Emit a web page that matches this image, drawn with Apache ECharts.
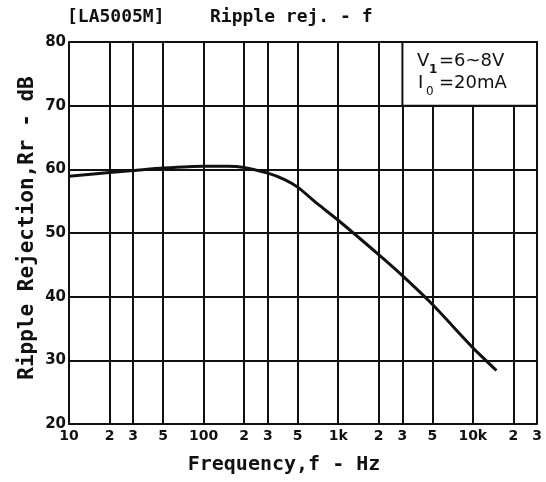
<!DOCTYPE html>
<html>
<head>
<meta charset="utf-8">
<script src="https://cdn.jsdelivr.net/npm/echarts@6/dist/echarts.min.js"></script>
<style>
	html, body { margin: 0; padding: 0; background: #fff; }
	#chart { width: 546px; height: 482px; }
</style>
</head>
<body>
<div id="chart"></div>
<script>
var freqHz = [10, 20, 30, 50, 100, 150, 200, 300, 400, 500, 700, 1000, 2000, 3000, 5000, 10000, 15000]
var rippleDb = [58.9, 59.5, 59.8, 60.2, 60.5, 60.5, 60.3, 59.4, 58.4, 57.2, 54.6, 52.0, 46.6, 43.3, 38.8, 32.0, 28.4]

// x grid / tick positions (Hz) and their labels
var tickHz = [10, 20, 30, 50, 100, 200, 300, 500, 1000, 2000, 3000, 5000, 10000, 20000, 30000]
var tickText = ['10', '2', '3', '5', '100', '2', '3', '5', '1k', '2', '3', '5', '10k', '2', '3']

var yTicks = [20, 30, 40, 50, 60, 70, 80]

var ink = '#111'
var mono = '"DejaVu Sans Mono", "Liberation Mono", monospace'
var sans = '"DejaVu Sans", sans-serif'

var tickLog = tickHz.map(function (f) { return Math.log10(f) })

function labelFor(v) {
	for (var i = 0; i < tickLog.length; i++) {
		if (Math.abs(tickLog[i] - v) < 1e-6) return tickText[i]
	}
	return ''
}

var chart = echarts.init(document.getElementById('chart'), null, { renderer: 'canvas' })

chart.setOption({
	backgroundColor: '#fff',
	animation: false,
	grid: { left: 69, right: 9, top: 42, bottom: 58 },
	xAxis: {
		type: 'value',
		min: tickLog[0],
		max: tickLog[tickLog.length - 1],
		axisLine: { show: true, lineStyle: { color: ink, width: 2 } },
		axisTick: { show: false, customValues: tickLog },
		splitLine: { show: true, lineStyle: { color: ink, width: 2 } },
		axisLabel: {
			customValues: tickLog,
			formatter: labelFor,
			color: ink,
			fontFamily: sans,
			fontWeight: 'bold',
			fontSize: 14,
			margin: 5
		}
	},
	yAxis: {
		type: 'value',
		min: yTicks[0],
		max: yTicks[yTicks.length - 1],
		interval: 10,
		axisLine: { show: true, lineStyle: { color: ink, width: 2 } },
		axisTick: { show: false },
		splitLine: { show: true, lineStyle: { color: ink, width: 2 } },
		axisLabel: {
			color: ink,
			fontFamily: sans,
			fontWeight: 'bold',
			fontSize: 15,
			margin: 3
		}
	},
	series: [
		{
			type: 'line',
			data: freqHz.map(function (f, i) { return [Math.log10(f), rippleDb[i]] }),
			smooth: 0.25,
			symbol: 'none',
			lineStyle: { color: ink, width: 3 },
			markArea: {
				silent: true,
				itemStyle: { color: '#fff', borderColor: ink, borderWidth: 2 },
				data: [[{ coord: [Math.log10(3000), 80] }, { coord: [Math.log10(30000), 70] }]]
			}
		}
	],
	graphic: {
		elements: [
			{ type: 'text', z: 100, left: 67, top: 8, style: { text: '[LA5005M]', font: 'bold 18px ' + mono, fill: ink } },
			{ type: 'text', z: 100, left: 210, top: 8, style: { text: 'Ripple rej. - f', font: 'bold 18px ' + mono, fill: ink } },
			{
				type: 'text', z: 100, x: 28, y: 228, rotation: Math.PI / 2,
				style: { text: 'Ripple Rejection,Rr - dB', font: 'bold 21px ' + mono, fill: ink, align: 'center', verticalAlign: 'middle' }
			},
			{
				type: 'text', z: 100, x: 284, y: 465,
				style: { text: 'Frequency,f - Hz', font: 'bold 20px ' + mono, fill: ink, align: 'center', verticalAlign: 'middle' }
			},
			{ type: 'text', z: 100, x: 417, y: 70, style: { text: 'V', font: '18px ' + sans, fill: ink, verticalAlign: 'bottom' } },
			{ type: 'text', z: 100, x: 429, y: 76, style: { text: '1', font: 'bold 12px ' + sans, fill: ink, verticalAlign: 'bottom' } },
			{ type: 'text', z: 100, x: 439, y: 70, style: { text: '=6~8V', font: '18px ' + sans, fill: ink, verticalAlign: 'bottom' } },
			{ type: 'text', z: 100, x: 418, y: 92, style: { text: 'I', font: '18px ' + sans, fill: ink, verticalAlign: 'bottom' } },
			{ type: 'text', z: 100, x: 426, y: 98, style: { text: '0', font: '12px ' + sans, fill: ink, verticalAlign: 'bottom' } },
			{ type: 'text', z: 100, x: 439, y: 92, style: { text: '=20mA', font: '18px ' + sans, fill: ink, verticalAlign: 'bottom' } }
		]
	}
})
</script>
</body>
</html>
